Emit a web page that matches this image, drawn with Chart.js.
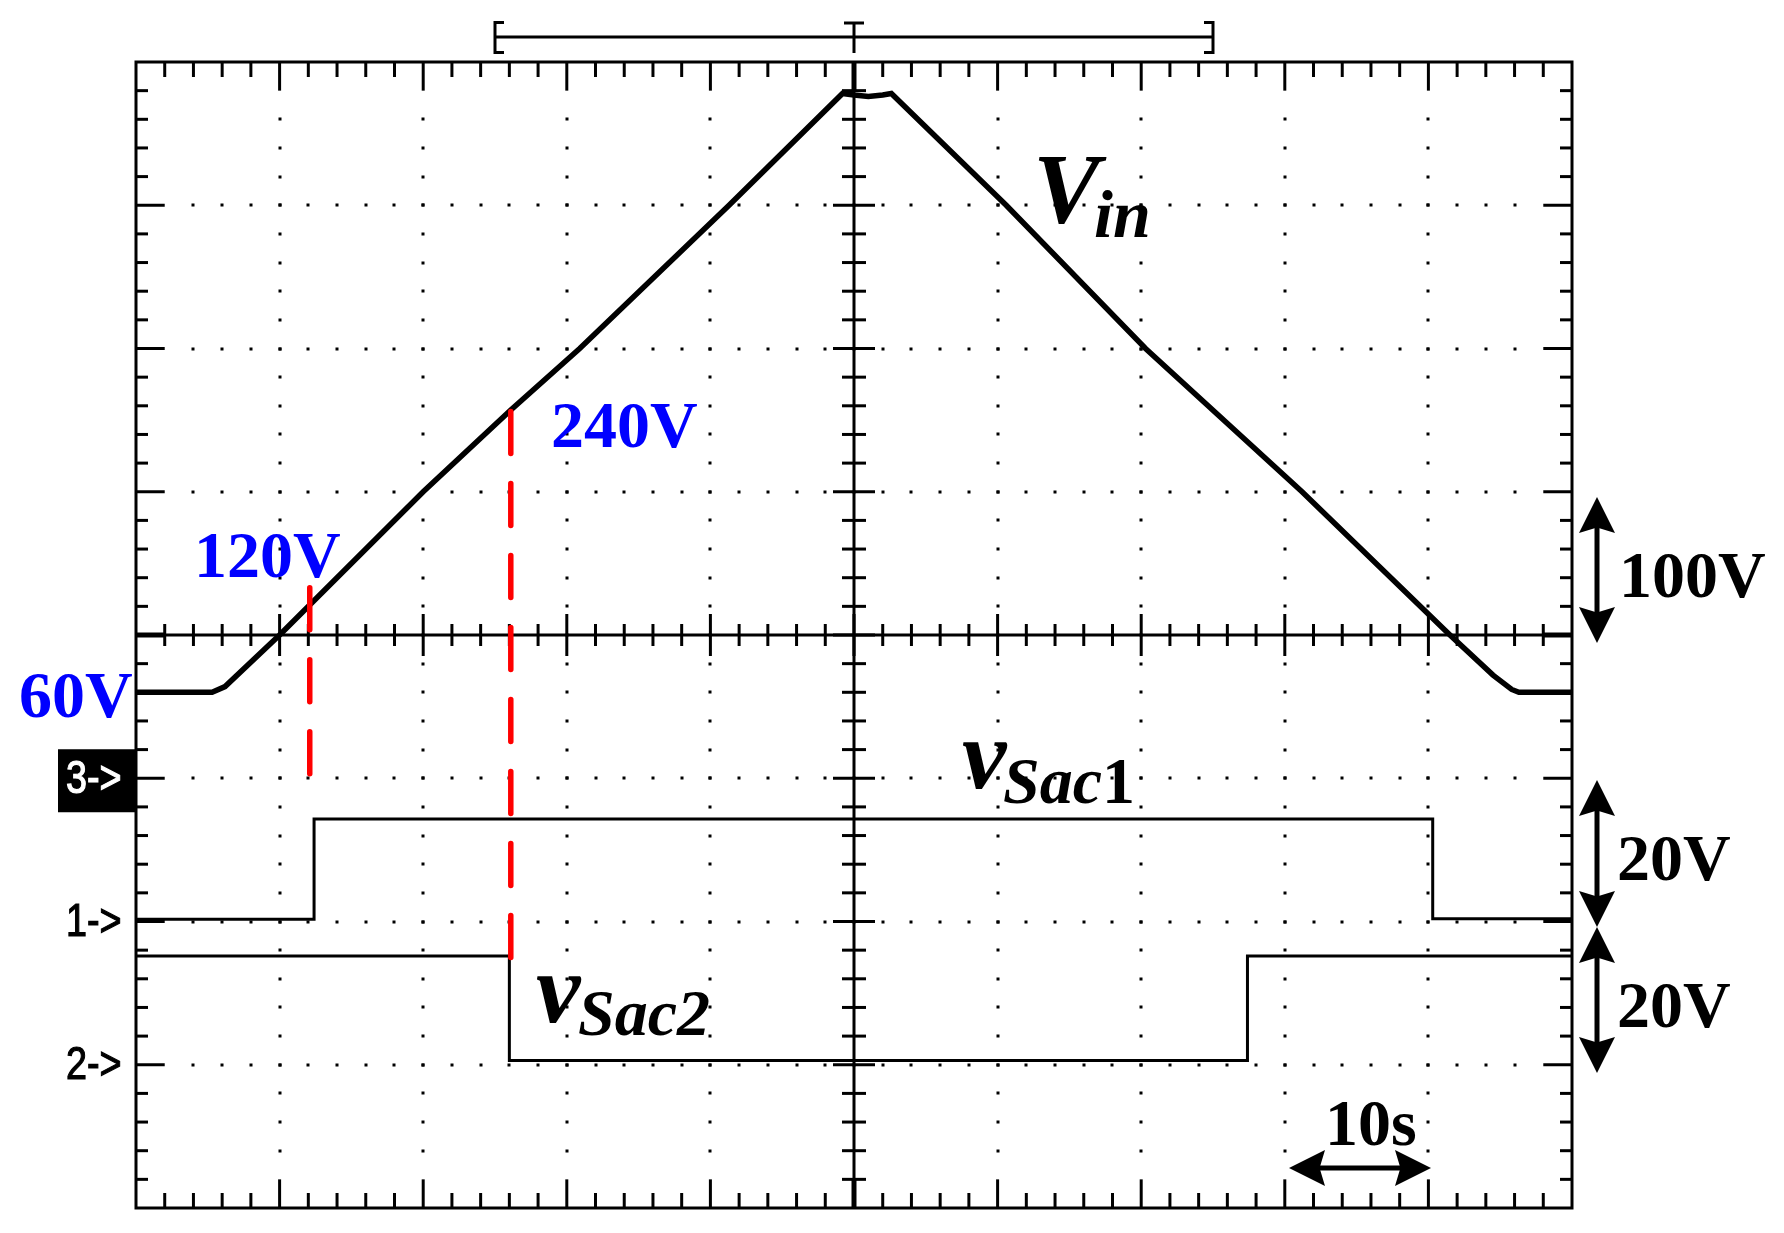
<!DOCTYPE html>
<html>
<head>
<meta charset="utf-8">
<style>
  html, body { margin: 0; padding: 0; background: #fff; }
  #wrap { width: 1784px; height: 1233px; }
</style>
<script src="https://cdn.jsdelivr.net/npm/chart.js@4.4.1/dist/chart.umd.min.js"></script>
</head>
<body>
<div id="wrap"><canvas id="scope" width="1784" height="1233"></canvas></div>
<script>
// time base: 10 s/div over 10 divisions (0..100 s)
// CH3 Vin, 100 V/div, ground one division under centre
var vinTime  = [0, 5.3, 6.2, 10, 20.0, 26.1, 30.9, 41.3, 49.2, 50, 51, 52, 52.6, 60.6, 70.3, 81.2, 91.5, 94.5, 95.8, 96.3, 100];
var vinVolts = [60, 60, 64, 100, 200, 257, 300, 400, 478, 477, 476, 477, 478, 400, 300, 200, 100, 72, 62, 60, 60];

// CH1 vSac1, 20 V/div, ground two divisions under centre
var sac1Time  = [0, 12.4, 12.4, 90.3, 90.3, 100];
var sac1Volts = [0.3, 0.3, 14.3, 14.3, 0.4, 0.4];

// CH2 vSac2, 20 V/div, ground three divisions under centre
var sac2Time  = [0, 26.0, 26.0, 77.4, 77.4, 100];
var sac2Volts = [15.2, 15.2, 0.6, 0.6, 15.2, 15.2];

// red cursor lines (time, top volts, bottom volts on the Vin scale)
var cursorTime   = [12.1, 26.1];
var cursorTop    = [133, 256];
var cursorBottom = [0, -127];

var voltsPerDiv = [100, 20, 20];   // ch3, ch1, ch2
var groundDiv   = [-1, -2, -3];

function pts(xs, ys) {
    var out = [];
    for (var i = 0; i < xs.length; i++) out.push({ x: xs[i], y: ys[i] });
    return out;
}

function range(i) {
    return { min: (-4 - groundDiv[i]) * voltsPerDiv[i], max: (4 - groundDiv[i]) * voltsPerDiv[i] };
}

var datasets = [];
for (var k = 0; k < cursorTime.length; k++) {
    datasets.push({
        data: [{ x: cursorTime[k], y: cursorTop[k] }, { x: cursorTime[k], y: cursorBottom[k] }],
        yAxisID: 'yVin', borderColor: '#ff0000', borderWidth: 5.5,
        borderDash: [42, 30], borderCapStyle: 'round', pointRadius: 0
    });
}
datasets.push({ data: pts(vinTime, vinVolts), yAxisID: 'yVin', borderColor: '#000', borderWidth: 5.5, pointRadius: 0 });
datasets.push({ data: pts(sac1Time, sac1Volts), yAxisID: 'y1', borderColor: '#000', borderWidth: 3, pointRadius: 0 });
datasets.push({ data: pts(sac2Time, sac2Volts), yAxisID: 'y2', borderColor: '#000', borderWidth: 3, pointRadius: 0 });

function seg(c, x1, y1, x2, y2) {
    c.beginPath(); c.moveTo(x1, y1); c.lineTo(x2, y2); c.stroke();
}

function head(c, x, y, dx, dy, len, half) {
    var bx = x - dx * len, by = y - dy * len;
    c.beginPath();
    c.moveTo(x, y);
    c.lineTo(bx - dy * half, by + dx * half);
    c.lineTo(x - dx * len * 0.85, y - dy * len * 0.85);
    c.lineTo(bx + dy * half, by - dx * half);
    c.closePath();
    c.fill();
}

function doubleArrow(c, x1, y1, x2, y2) {
    var L = Math.hypot(x2 - x1, y2 - y1), dx = (x2 - x1) / L, dy = (y2 - y1) / L;
    c.lineWidth = 5;
    seg(c, x1 + dx * 30, y1 + dy * 30, x2 - dx * 30, y2 - dy * 30);
    head(c, x1, y1, -dx, -dy, 36, 18);
    head(c, x2, y2, dx, dy, 36, 18);
}

var graticule = {
    id: 'graticule',
    beforeDraw: function (chart) {
        var c = chart.ctx;
        c.save();
        c.fillStyle = '#fff';
        c.fillRect(0, 0, chart.width, chart.height);
        c.restore();
    },
    beforeDatasetsDraw: function (chart) {
        var c = chart.ctx, a = chart.chartArea, xs = chart.scales.x, ys = chart.scales.yDiv;
        var mx = xs.getPixelForValue(2) - xs.getPixelForValue(0);
        var my = ys.getPixelForValue(0) - ys.getPixelForValue(0.2);
        var cx = xs.getPixelForValue(50), cy = ys.getPixelForValue(0);
        var i, j, px, py, major;
        c.save();
        c.strokeStyle = '#000';
        c.fillStyle = '#000';
        c.lineWidth = 3;

        for (i = 1; i < 50; i++) {
            px = xs.getPixelForValue(i * 2);
            major = i % 5 === 0;
            if (major && i !== 25) {
                seg(c, px, a.top, px, a.top + my);
                seg(c, px, a.bottom - my, px, a.bottom);
                for (j = 2; j <= 38; j++) {
                    py = ys.getPixelForValue(-4 + j * 0.2);
                    c.fillRect(Math.round(px) - 1.5, Math.round(py) - 1.5, 3, 3);
                }
            } else if (!major) {
                seg(c, px, a.top, px, a.top + 15);
                seg(c, px, a.bottom - 15, px, a.bottom);
            }
            var h = major ? 21 : 11;
            seg(c, px, cy - h, px, cy + h);
        }
        for (i = 1; i < 40; i++) {
            py = ys.getPixelForValue(-4 + i * 0.2);
            major = i % 5 === 0;
            if (major && i !== 20) {
                seg(c, a.left, py, a.left + mx, py);
                seg(c, a.right - mx, py, a.right, py);
                for (j = 2; j <= 48; j++) {
                    px = xs.getPixelForValue(j * 2);
                    c.fillRect(Math.round(px) - 1.5, Math.round(py) - 1.5, 3, 3);
                }
            } else if (!major) {
                seg(c, a.left, py, a.left + 12, py);
                seg(c, a.right - 12, py, a.right, py);
            }
            var w = major ? 21 : 12;
            seg(c, cx - w, py, cx + w, py);
        }
        // centre cross
        seg(c, a.left, cy, a.right, cy);
        seg(c, cx, a.top, cx, a.bottom);
        c.lineWidth = 5;
        seg(c, a.left, cy, a.left + mx, cy);
        seg(c, a.right - mx, cy, a.right, cy);
        seg(c, cx, a.top, cx, a.top + my);
        seg(c, cx, a.bottom - my, cx, a.bottom);
        // frame
        c.lineWidth = 3;
        c.strokeRect(a.left, a.top, a.right - a.left, a.bottom - a.top);
        c.restore();
    },
    afterDraw: function (chart) {
        var c = chart.ctx, xs = chart.scales.x;
        c.save();
        c.strokeStyle = '#000';
        c.fillStyle = '#000';

        // trigger window bracket on top
        var bx1 = xs.getPixelForValue(25), bx2 = xs.getPixelForValue(75), bc = xs.getPixelForValue(50);
        c.lineWidth = 3;
        seg(c, bx1, 37, bx2, 37);
        seg(c, bx1, 21, bx1, 54); seg(c, bx1, 22.5, bx1 + 9, 22.5); seg(c, bx1, 52.5, bx1 + 9, 52.5);
        seg(c, bx2, 21, bx2, 54); seg(c, bx2, 22.5, bx2 - 9, 22.5); seg(c, bx2, 52.5, bx2 - 9, 52.5);
        seg(c, bc, 22, bc, 53); seg(c, bc - 10, 23, bc + 10, 23);

        // channel ground markers
        var g3 = chart.scales.yVin.getPixelForValue(0);
        var g1 = chart.scales.y1.getPixelForValue(0);
        var g2 = chart.scales.y2.getPixelForValue(0);
        c.fillRect(58, g3 - 29, 79, 63);
        c.font = '46px "Liberation Sans"';
        c.textBaseline = 'middle';
        var marks = [['3->', g3, '#fff'], ['1->', g1, '#000'], ['2->', g2, '#000']];
        marks.forEach(function (m) {
            c.save();
            c.translate(66, m[1] + 2);
            c.scale(0.82, 1);
            c.fillStyle = m[2];
            c.strokeStyle = m[2];
            c.lineWidth = 1.2;
            c.fillText(m[0], 0, 0);
            c.strokeText(m[0], 0, 0);
            c.restore();
        });
        c.textBaseline = 'alphabetic';

        // scale arrows
        doubleArrow(c, 1597, 497, 1597, 643);
        doubleArrow(c, 1597, 780, 1597, 927);
        doubleArrow(c, 1597, 927, 1597, 1073);
        doubleArrow(c, 1289, 1168, 1431, 1168);

        c.font = 'bold 66px "Liberation Serif"';
        c.fillText('100V', 1619, 597);
        c.fillText('20V', 1617, 880);
        c.fillText('20V', 1617, 1027);
        c.fillText('10s', 1325, 1145);

        c.fillStyle = '#0000ff';
        c.fillText('60V', 19, 717);
        c.fillText('120V', 194, 577);
        c.fillText('240V', 551, 447);

        // trace names
        c.fillStyle = '#000';
        c.font = 'italic bold 100px "Liberation Serif"';
        c.fillText('V', 1033, 222);
        c.fillText('v', 962, 788);
        c.fillText('v', 536, 1022);
        c.font = 'italic bold 68px "Liberation Serif"';
        c.fillText('in', 1094, 237);
        c.font = 'italic bold 66px "Liberation Serif"';
        c.fillText('Sac', 1003, 803);
        var wS = c.measureText('Sac').width;
        c.fillText('Sac2', 578, 1035);
        c.font = 'bold 66px "Liberation Serif"';
        c.fillText('1', 1003 + wS, 803);
        c.restore();
    }
};

var chart = new Chart(document.getElementById('scope'), {
    type: 'line',
    data: { datasets: datasets },
    options: {
        responsive: false,
        animation: false,
        devicePixelRatio: 1,
        layout: { padding: { left: 136, top: 62, right: 212, bottom: 25 } },
        plugins: { legend: { display: false }, tooltip: { enabled: false } },
        elements: { line: { tension: 0 } },
        scales: {
            x: { type: 'linear', min: 0, max: 100, display: false },
            yDiv: { type: 'linear', min: -4, max: 4, display: false },
            yVin: Object.assign({ type: 'linear', display: false }, range(0)),
            y1: Object.assign({ type: 'linear', display: false }, range(1)),
            y2: Object.assign({ type: 'linear', display: false }, range(2))
        }
    },
    plugins: [graticule]
});
</script>
</body>
</html>
